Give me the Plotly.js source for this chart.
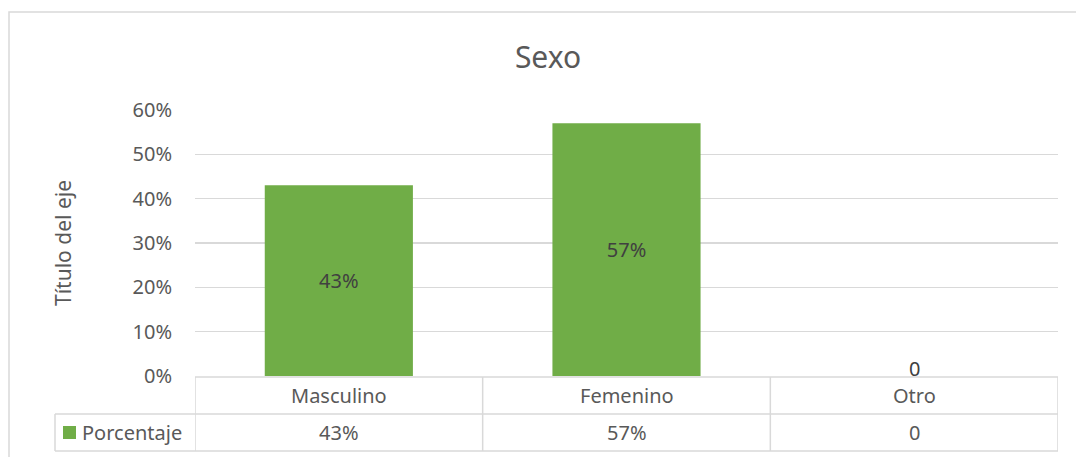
<!DOCTYPE html>
<html>
<head>
<meta charset="utf-8">
<script src="https://cdn.plot.ly/plotly-3.0.1.min.js"></script>
<style>html,body{margin:0;padding:0;background:#fff;}#chart{width:1076px;height:457px;}</style>
</head>
<body>
<div id="chart"></div>
<script>
const categories = ["Masculino", "Femenino", "Otro"];
const porcentaje = [0.43, 0.57, 0];
const valueLabels = ["43%", "57%", "0"];
const seriesName = "Porcentaje";
const chartTitle = "Sexo";
const yTitle = "Título del eje";

const W = 1076, H = 457;
const M = {l: 195, r: 18, t: 110, b: 81};
const PW = W - M.l - M.r, PH = H - M.t - M.b;
const px = p => (p - M.l) / PW;
const py = p => (H - M.b - p) / PH;

const grid = '#D9D9D9';
const txt = '#595959';
const green = '#70AD47';
const font = 'Noto Sans, sans-serif';

const row1Top = 377, row1Bot = 414, row2Bot = 451;
const shapes = [];
const line = (o) => Object.assign({type: 'line', line: {color: grid, width: 1.5}, layer: 'above'}, o);
// outer border
shapes.push({type: 'rect', xref: 'paper', yref: 'paper', x0: px(9), x1: px(1085), y0: py(470), y1: py(12), line: {color: grid, width: 1.5}, layer: 'below'});
// table horizontal lines
shapes.push(line({xref: 'x', yref: 'paper', x0: -0.5, x1: categories.length - 0.5, y0: py(row1Top), y1: py(row1Top)}));
shapes.push(line({xref: 'paper', yref: 'paper', x0: px(55), x1: 1, y0: py(row1Bot), y1: py(row1Bot)}));
shapes.push(line({xref: 'paper', yref: 'paper', x0: px(55), x1: 1, y0: py(row2Bot), y1: py(row2Bot)}));
// vertical lines at category boundaries
for (let i = 0; i <= categories.length; i++) {
  shapes.push(line({xref: 'x', yref: 'paper', x0: i - 0.5, x1: i - 0.5, y0: py(row1Top), y1: py(row2Bot)}));
}
shapes.push(line({xref: 'paper', yref: 'paper', x0: px(55), x1: px(55), y0: py(row1Bot), y1: py(row2Bot)}));
// legend key
shapes.push({type: 'rect', xref: 'paper', yref: 'paper', x0: px(63), x1: px(76), y0: py(439), y1: py(426), fillcolor: green, line: {width: 0}});

const annotations = [];
categories.forEach((c, i) => {
  annotations.push({xref: 'x', yref: 'paper', x: i, y: py((row1Top + row1Bot) / 2), text: c, showarrow: false, xanchor: 'center', yanchor: 'middle', font: {family: font, size: 20, color: txt}});
  annotations.push({xref: 'x', yref: 'paper', x: i, y: py((row1Bot + row2Bot) / 2), text: valueLabels[i], showarrow: false, xanchor: 'center', yanchor: 'middle', font: {family: font, size: 20, color: txt}});
});
annotations.push({xref: 'paper', yref: 'paper', x: px(80), y: py((row1Bot + row2Bot) / 2), text: seriesName, showarrow: false, xanchor: 'left', yanchor: 'middle', font: {family: font, size: 20, color: txt}});
// data label for zero-height bar, sitting on the baseline
porcentaje.forEach((v, i) => {
  if (v === 0) {
    annotations.push({xref: 'x', yref: 'y', x: categories[i], y: v, text: valueLabels[i], showarrow: false, xanchor: 'center', yanchor: 'bottom', yshift: -8, font: {family: font, size: 20, color: '#404040'}});
  }
});

const trace = {
  type: 'bar', x: categories, y: porcentaje, name: seriesName,
  marker: {color: green},
  width: 0.515,
  text: valueLabels.map((t, i) => porcentaje[i] === 0 ? '' : t), texttemplate: '%{text}',
  textposition: 'inside',
  insidetextanchor: 'middle',
  constraintext: 'none',
  textfont: {family: font, size: 20, color: '#404040'},
  cliponaxis: false,
  hoverinfo: 'none'
};

const layout = {
  width: W, height: H,
  margin: M,
  paper_bgcolor: '#fff', plot_bgcolor: '#fff',
  showlegend: false,
  font: {family: font, color: txt},
  title: {text: chartTitle, font: {family: font, size: 30, color: txt}, xref: 'container', x: 548 / W, xanchor: 'center', yref: 'container', y: 1 - 57 / H, yanchor: 'middle'},
  xaxis: {showticklabels: false, showgrid: false, zeroline: false, showline: false, ticks: '', range: [-0.5, categories.length - 0.5], fixedrange: true},
  yaxis: {range: [0, 0.6], dtick: 0.1, tickformat: '.0%', showgrid: true, gridcolor: grid, gridwidth: 1.5, zeroline: false, showline: false, ticks: '', ticklabelstandoff: 22,
          tickfont: {family: font, size: 20, color: txt},
          title: {text: yTitle, font: {family: font, size: 21, color: txt}, standoff: 55}, automargin: false, fixedrange: true},
  shapes: shapes,
  annotations: annotations
};

Plotly.newPlot('chart', [trace], layout, {displayModeBar: false, staticPlot: true});
</script>
</body>
</html>
